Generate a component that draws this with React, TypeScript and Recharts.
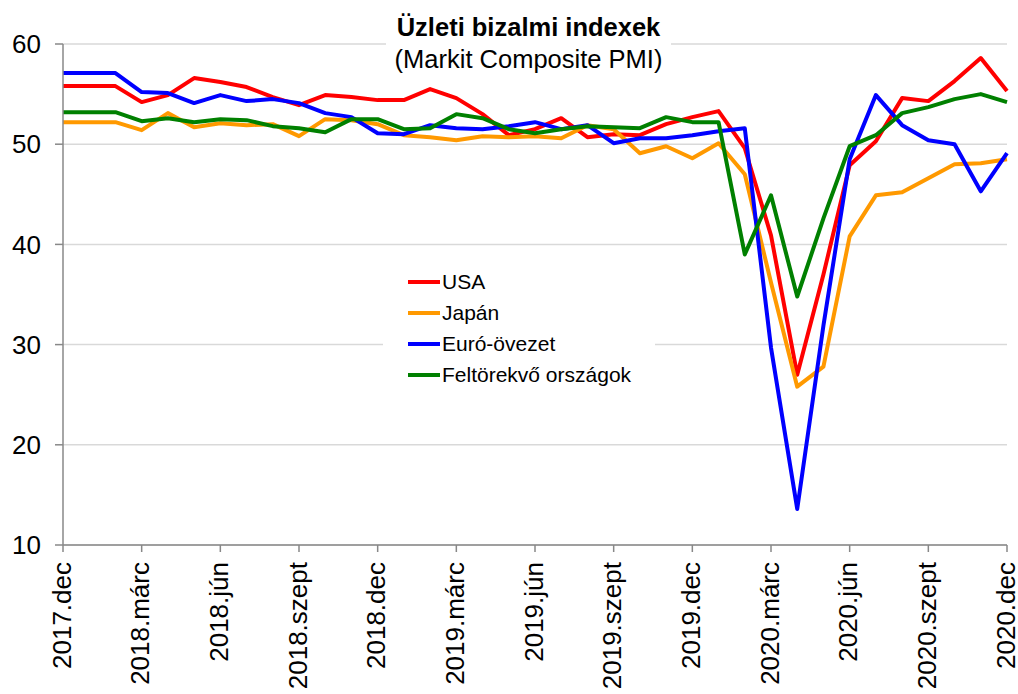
import { LineChart, Line, XAxis, YAxis, CartesianGrid, Legend } from "recharts";

// havi adatok, 2017.dec - 2020.dec
const months = [
  "2017.dec", "2018.jan", "2018.febr", "2018.márc", "2018.ápr", "2018.máj", "2018.jún", "2018.júl", "2018.aug",
  "2018.szept", "2018.okt", "2018.nov", "2018.dec", "2019.jan", "2019.febr", "2019.márc", "2019.ápr", "2019.máj",
  "2019.jún", "2019.júl", "2019.aug", "2019.szept", "2019.okt", "2019.nov", "2019.dec", "2020.jan", "2020.febr",
  "2020.márc", "2020.ápr", "2020.máj", "2020.jún", "2020.júl", "2020.aug", "2020.szept", "2020.okt", "2020.nov",
  "2020.dec",
];

const usa = [
  55.8, 55.8, 55.8, 54.2, 54.9, 56.6, 56.2, 55.7, 54.7, 53.9, 54.9, 54.7, 54.4, 54.4, 55.5, 54.6, 53.0, 50.9, 51.5,
  52.6, 50.7, 51.0, 50.9, 52.0, 52.7, 53.3, 49.6, 40.9, 27.0, 37.0, 47.9, 50.3, 54.6, 54.3, 56.3, 58.6, 55.3,
];
const japan = [
  52.2, 52.2, 52.2, 51.4, 53.1, 51.7, 52.1, 51.9, 52.0, 50.8, 52.5, 52.4, 52.0, 50.9, 50.7, 50.4, 50.8, 50.7, 50.8,
  50.6, 51.9, 51.5, 49.1, 49.8, 48.6, 50.1, 47.0, 36.2, 25.8, 27.8, 40.8, 44.9, 45.2, 46.6, 48.0, 48.1, 48.5,
];
const euro = [
  57.1, 57.1, 57.1, 55.2, 55.1, 54.1, 54.9, 54.3, 54.5, 54.1, 53.1, 52.7, 51.1, 51.0, 51.9, 51.6, 51.5, 51.8, 52.2,
  51.5, 51.9, 50.1, 50.6, 50.6, 50.9, 51.3, 51.6, 29.7, 13.6, 31.9, 48.5, 54.9, 51.9, 50.4, 50.0, 45.3, 49.1,
];
const emerging = [
  53.2, 53.2, 53.2, 52.3, 52.6, 52.2, 52.5, 52.4, 51.8, 51.6, 51.2, 52.5, 52.5, 51.5, 51.6, 53.0, 52.6, 51.5, 51.1,
  51.5, 51.8, 51.7, 51.6, 52.7, 52.2, 52.2, 39.0, 44.9, 34.8, 42.6, 49.8, 50.9, 53.1, 53.7, 54.5, 55.0, 54.2,
];

const yTicks = [10, 20, 30, 40, 50, 60];

const SERIES = [
  { key: "usa", name: "USA", color: "#ff0000" },
  { key: "japan", name: "Japán", color: "#ff9900" },
  { key: "euro", name: "Euró-övezet", color: "#0000ff" },
  { key: "emerging", name: "Feltörekvő országok", color: "#008000" },
];

const FONT = "'Liberation Sans', Arial, sans-serif";

const data = months.map((m, i) => ({
  month: m,
  usa: usa[i],
  japan: japan[i],
  euro: euro[i],
  emerging: emerging[i],
}));

// függőleges tengelyfelirat
const XTick = (props: any) => {
  const { x, y, payload } = props;
  const ty = y + 8;
  return (
    <text
      x={x}
      y={ty}
      transform={`rotate(-90 ${x} ${ty})`}
      textAnchor="end"
      dy="0.3em"
      fontSize={26}
      fontFamily={FONT}
      fill="#000"
    >
      {payload.value}
    </text>
  );
};

const LegendBox = () => (
  <div
    style={{
      background: "#fff",
      width: 272,
      height: 140,
      paddingTop: 8,
      boxSizing: "border-box",
      fontFamily: FONT,
      fontSize: 21,
      color: "#000",
    }}
  >
    {SERIES.map((s) => (
      <div key={s.key} style={{ display: "flex", alignItems: "center", height: 31 }}>
        <span style={{ display: "inline-block", marginLeft: 25, width: 32, height: 4, background: s.color }} />
        <span style={{ marginLeft: 2 }}>{s.name}</span>
      </div>
    ))}
  </div>
);

export default function App() {
  return (
    <div style={{ position: "fixed", left: 0, top: 0, width: 1018, height: 694, background: "#fff" }}>
      <LineChart width={1018} height={694} data={data} margin={{ top: 44, right: 11, left: 0, bottom: 0 }}>
        <CartesianGrid vertical={false} stroke="#d9d9d9" strokeWidth={1.5} />
        <XAxis
          dataKey="month"
          interval={2}
          height={149}
          tick={<XTick />}
          tickSize={7}
          stroke="#888"
          strokeWidth={1.5}
        />
        <YAxis
          domain={[10, 60]}
          ticks={yTicks}
          width={63}
          tickSize={8}
          tickMargin={14}
          stroke="#888"
          strokeWidth={1.5}
          tick={{ fontSize: 26, fontFamily: FONT, fill: "#000" }}
        />
        <Legend
          layout="vertical"
          align="center"
          verticalAlign="middle"
          content={<LegendBox />}
          wrapperStyle={{ left: 383, top: 258, width: 272 }}
        />
        {SERIES.map((s) => (
          <Line
            key={s.key}
            dataKey={s.key}
            name={s.name}
            stroke={s.color}
            strokeWidth={4}
            dot={false}
            strokeLinejoin="round"
            isAnimationActive={false}
          />
        ))}
      </LineChart>
      <div
        style={{
          position: "absolute",
          left: 386,
          top: 4,
          width: 285,
          height: 72,
          paddingTop: 7,
          boxSizing: "border-box",
          background: "#fff",
          textAlign: "center",
          fontFamily: FONT,
          fontSize: 25.5,
          lineHeight: "32px",
          color: "#000",
        }}
      >
        <div style={{ fontWeight: "bold" }}>Üzleti bizalmi indexek</div>
        <div>(Markit Composite PMI)</div>
      </div>
    </div>
  );
}
